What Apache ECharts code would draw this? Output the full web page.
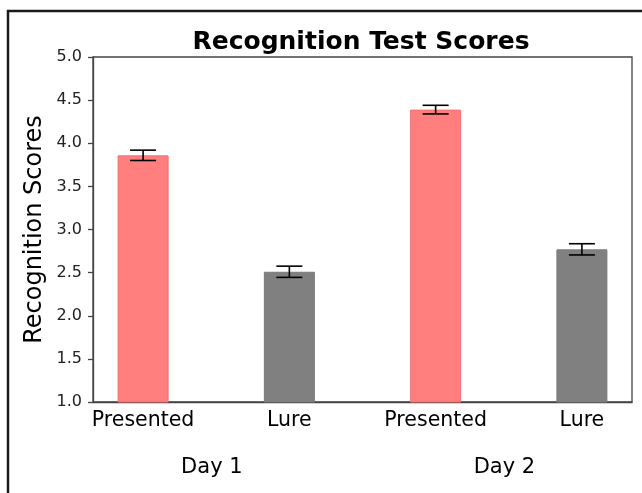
<!DOCTYPE html>
<html>
<head>
<meta charset="utf-8">
<script src="https://cdn.jsdelivr.net/npm/echarts@6/dist/echarts.min.js"></script>
<style>
  html, body { margin: 0; padding: 0; background: #fff; }
  #chart { width: 642px; height: 493px; }
</style>
</head>
<body>
<div id="chart"></div>
<script>
// data
var categories = ['Presented', 'Lure', 'Presented', 'Lure']
var positions = [0, 1, 2, 3]
var scores = [3.86, 2.51, 4.39, 2.77]
var errors = [0.06, 0.065, 0.05, 0.065]
var dayLabels = ['Day 1', 'Day 2']
var dayPositions = [0.47, 2.47]
var barColors = ['#ff7f7f', '#808080', '#ff7f7f', '#808080']

var font = 'DejaVu Sans'
var chart = echarts.init(document.getElementById('chart'))

var barData = positions.map(function (p, i) {
  return {
    value: [p, scores[i]],
    itemStyle: { color: barColors[i], borderColor: i % 2 === 0 ? '#f77070' : '#7a7a7a', borderWidth: 1 }
  }
})
var errData = positions.map(function (p, i) {
  return [p, scores[i], errors[i]]
})

chart.setOption({
  animation: false,
  backgroundColor: '#fff',
  title: {
    text: 'Recognition Test Scores',
    left: 356,
    textAlign: 'center',
    top: 25,
    textStyle: { fontFamily: font, fontSize: 25, fontWeight: 'bold', color: '#000' }
  },
  grid: {
    left: 93, right: 10, top: 57, bottom: 91,
    show: true, borderColor: '#444', borderWidth: 1.3
  },
  xAxis: [{
    type: 'value',
    min: -0.3425,
    max: 3.3425,
    splitLine: { show: false },
    axisLine: { show: true, onZero: false, lineStyle: { color: '#444', width: 1.3 } },
    axisTick: { show: false },
    axisLabel: {
      customValues: positions,
      margin: 8,
      fontFamily: font, fontSize: 20.5, color: '#000',
      formatter: function (v) { return categories[positions.indexOf(v)] }
    }
  }, {
    type: 'value',
    position: 'bottom',
    offset: 47,
    min: -0.3425,
    max: 3.3425,
    splitLine: { show: false },
    axisLine: { show: false, onZero: false },
    axisTick: { show: false },
    axisLabel: {
      customValues: dayPositions,
      margin: 8,
      fontFamily: font, fontSize: 21, color: '#000',
      formatter: function (v) { return dayLabels[dayPositions.indexOf(v)] }
    }
  }],
  yAxis: {
    type: 'value',
    min: 1,
    max: 5,
    interval: 0.5,
    name: 'Recognition Scores',
    nameLocation: 'middle',
    nameRotate: 90,
    nameGap: 46,
    nameMoveOverlap: false,
    nameTextStyle: { fontFamily: font, fontSize: 24, color: '#000' },
    splitLine: { show: false },
    axisLine: { show: true, onZero: false, lineStyle: { color: '#444', width: 1.3 } },
    axisTick: { show: true, length: 5, lineStyle: { color: '#444', width: 1.3 } },
    axisLabel: {
      margin: 11,
      fontFamily: font, fontSize: 16, color: '#222',
      formatter: function (v) { return v.toFixed(1) }
    }
  },
  graphic: [{
    type: 'polyline',
    shape: { points: [[8, 493], [8, 11], [642, 11]] },
    style: { stroke: '#1a1a1a', lineWidth: 2.5, fill: null }
  }],
  series: [{
    type: 'bar',
    xAxisIndex: 0,
    barWidth: 51,
    data: barData
  }, {
    type: 'custom',
    xAxisIndex: 0,
    data: errData,
    renderItem: function (params, api) {
      var x = api.value(0)
      var hi = api.coord([x, api.value(1) + api.value(2)])
      var lo = api.coord([x, api.value(1) - api.value(2)])
      var w = 13
      var st = { stroke: '#000', lineWidth: 1.6 }
      return {
        type: 'group',
        children: [
          { type: 'line', shape: { x1: hi[0], y1: hi[1], x2: lo[0], y2: lo[1] }, style: st },
          { type: 'line', shape: { x1: hi[0] - w, y1: hi[1], x2: hi[0] + w, y2: hi[1] }, style: st },
          { type: 'line', shape: { x1: lo[0] - w, y1: lo[1], x2: lo[0] + w, y2: lo[1] }, style: st }
        ]
      }
    },
    z: 5
  }]
})
</script>
</body>
</html>
